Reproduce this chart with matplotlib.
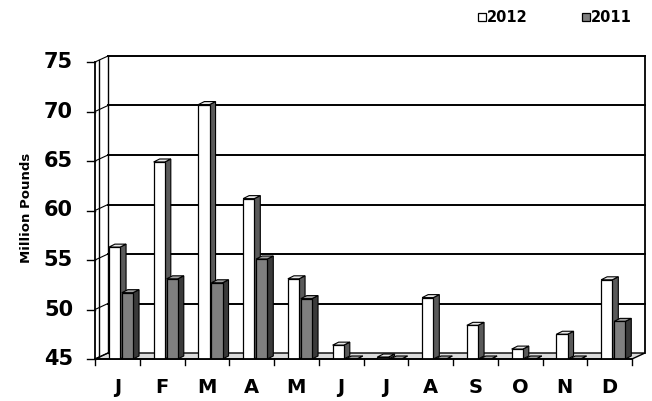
import matplotlib.pyplot as plt
from matplotlib.patches import Polygon, Rectangle

plt.rcParams['font.family'] = ['DejaVu Sans']

months = ['J', 'F', 'M', 'A', 'M', 'J', 'J', 'A', 'S', 'O', 'N', 'D']
sales_2012 = [56.3, 64.9, 70.7, 61.2, 53.1, 46.4, 45.2, 51.2, 48.4, 46.0, 47.5, 53.0]
sales_2011 = [51.7, 53.1, 52.7, 55.1, 51.1, 45.0, 45.0, 45.0, 45.0, 45.0, 45.0, 48.8]
yticks = [45, 50, 55, 60, 65, 70, 75]
ymin, ymax = 45, 75

W, H = 652, 401
fig = plt.figure(figsize=(W / 100, H / 100), dpi=100)
# front axis box in pixels
x0, x1, y0, y1 = 95, 632, 359, 62
ax = fig.add_axes([x0 / W, 1 - y0 / H, (x1 - x0) / W, (y0 - y1) / H])
ax.set_xlim(0, 12)
ax.set_ylim(ymin, ymax)
ax.axis('off')

# pixels -> data units
px_x = 12 / (x1 - x0)
px_y = (ymax - ymin) / (y0 - y1)
wdx, wdy = 13 * px_x, 6 * px_y      # wall depth
bdx, bdy = 6 * px_x, 3 * px_y       # bar depth

# floor
ax.add_patch(Polygon([(0, ymin), (12, ymin), (12 + wdx, ymin + wdy), (wdx, ymin + wdy)],
                     closed=True, facecolor='#dcdcdc', edgecolor='black', lw=1.0,
                     clip_on=False, zorder=1))
# back wall gridlines
for t in yticks[1:]:
    ax.plot([wdx, 12 + wdx], [t + wdy, t + wdy], color='black', lw=1.4,
            clip_on=False, zorder=1)
# back wall edges
ax.plot([wdx, wdx], [ymin + wdy, ymax + wdy], color='black', lw=1.0, clip_on=False, zorder=1)
ax.plot([12 + wdx, 12 + wdx], [ymin + wdy, ymax + wdy], color='black', lw=1.3, clip_on=False, zorder=1)
# left side wall
ax.plot([0, 0], [ymin, ymax], color='black', lw=1.3, clip_on=False, zorder=1)
ax.plot([4 * px_x, 4 * px_x], [ymin + 2 * px_y, ymax + 2 * px_y], color='black', lw=1.0,
        clip_on=False, zorder=1)
for t in yticks:
    ax.plot([0, wdx], [t, t + wdy], color='black', lw=0.8, clip_on=False, zorder=1)
    ax.plot([-8 * px_x, 0], [t, t], color='black', lw=1.0, clip_on=False)
ax.plot([0, 12], [ymin, ymin], color='black', lw=1.3, clip_on=False, zorder=5)
for i in range(13):
    ax.plot([i, i], [ymin, ymin - 6 * px_y], color='black', lw=1.0, clip_on=False)

bw = 0.25
offsets = [0.31, 0.60]
series = [(sales_2012, 'white', '#5a5a5a', '#e8e8e8'),
          (sales_2011, '#7f7f7f', '#3a3a3a', '#a0a0a0')]


def draw_bar(xl, val, front, side, top):
    h = max(val - ymin, 0)
    yt = ymin + h
    ax.add_patch(Polygon([(xl + bw, ymin), (xl + bw + bdx, ymin + bdy),
                          (xl + bw + bdx, yt + bdy), (xl + bw, yt)],
                         closed=True, facecolor=side, edgecolor='black', lw=0.8, zorder=3))
    ax.add_patch(Polygon([(xl, yt), (xl + bw, yt), (xl + bw + bdx, yt + bdy), (xl + bdx, yt + bdy)],
                         closed=True, facecolor=top, edgecolor='black', lw=0.8, zorder=3))
    ax.add_patch(Rectangle((xl, ymin), bw, h, facecolor=front, edgecolor='black', lw=0.9, zorder=4))


for i in range(12):
    for (vals, front, side, top), off in zip(series, offsets):
        draw_bar(i + off, vals[i], front, side, top)

for t in yticks:
    ax.text(-22 * px_x, t, str(t), ha='right', va='center', fontsize=15, fontweight='bold')
for i, m in enumerate(months):
    ax.text(i + 0.5, ymin - 28 * px_y, m, ha='center', va='center', fontsize=14, fontweight='bold')

fig.text(27 / W, 1 - 208 / H, 'Million Pounds', rotation=90, ha='center', va='center',
         fontsize=9.5, fontweight='bold')

# legend
for lx, lab, col in [(478, '2012', 'white'), (582, '2011', '#7f7f7f')]:
    fig.patches.append(Rectangle((lx / W, 1 - 21 / H), 8 / W, 8 / H, transform=fig.transFigure,
                                 facecolor=col, edgecolor='black', lw=0.9))
    fig.text((lx + 9) / W, 1 - 17 / H, lab, ha='left', va='center', fontsize=10.5, fontweight='bold')

fig.savefig('out.png', dpi=100)
